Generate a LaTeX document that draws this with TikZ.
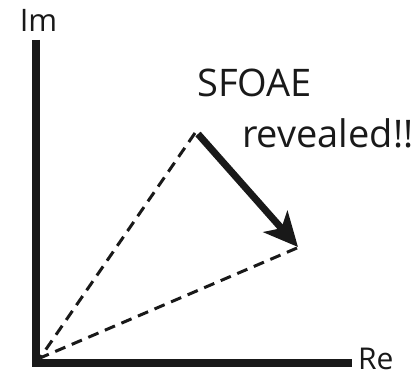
\documentclass[tikz,border=0pt]{standalone}
\usepackage{fontspec}
\setmainfont{Open Sans}
\usetikzlibrary{arrows.meta}
\begin{document}
\begin{tikzpicture}[x=1pt,y=1pt,
  axis/.style={line width=8pt, draw=black!90},
  dline/.style={line width=3pt, draw=black!90, dash pattern=on 11pt off 7pt},
  bigarrow/.style={line width=7pt, draw=black!90, -{Stealth[length=34pt,width=32pt,inset=9pt]}},
  lbl/.style={inner sep=0pt, text=black!90}]
\useasboundingbox (0,0) rectangle (419,377);
\coordinate (top) at (36,337);
\coordinate (corner) at (36,14);
\coordinate (right) at (352,14);
\coordinate (O) at (40,19);
\coordinate (P) at (195,244);
\coordinate (Q) at (297,129);
\coordinate (S) at (198,243);
\coordinate (T) at (298,130);
\draw[axis] (top) -- (corner) -- (right);
\draw[dline] (P) -- (O);
\draw[dline] (Q) -- (O);
\draw[bigarrow] (S) -- (T);
\node[lbl, anchor=base, font=\fontsize{31}{31}\selectfont] (im) at (38.5,345) {Im};
\node[lbl, anchor=base west, font=\fontsize{30}{30}\selectfont] (re) at (358,8) {Re};
\node[lbl, anchor=base west, font=\fontsize{38}{38}\selectfont] (sf) at (197,280) {SFOAE};
\node[lbl, anchor=base west, font=\fontsize{38}{38}\selectfont] (rv) at (242,229) {revealed!!};
\end{tikzpicture}
\end{document}
